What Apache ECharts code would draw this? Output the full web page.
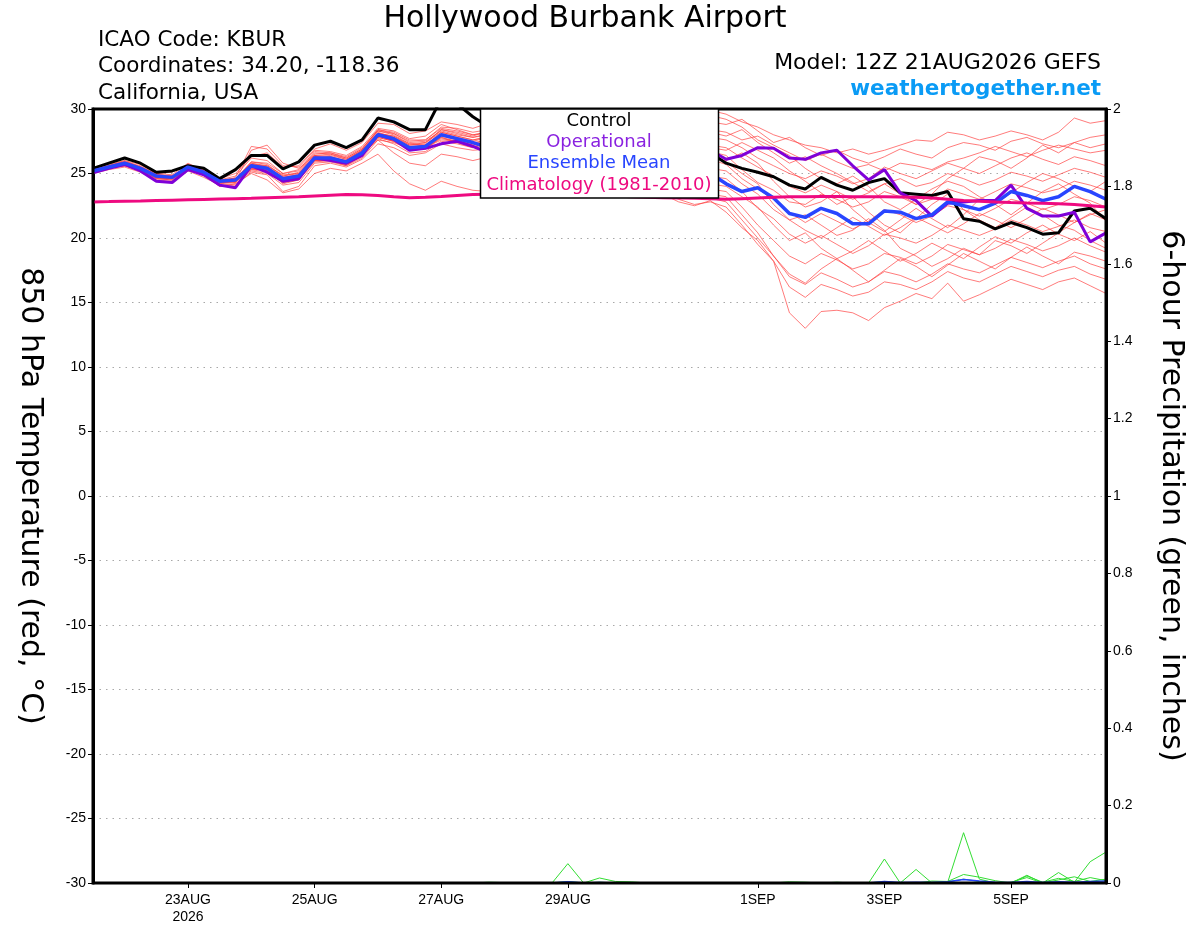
<!DOCTYPE html>
<html>
<head>
<meta charset="utf-8">
<title>Hollywood Burbank Airport</title>
<script src="https://cdn.jsdelivr.net/npm/echarts@6/dist/echarts.min.js"></script>
<style>
  html, body { margin: 0; padding: 0; background: #fff; }
  #main { width: 1200px; height: 927px; }
</style>
</head>
<body>
<div id="main"></div>
<script>
// 6-hourly steps, 21AUG2026 12Z .. 6SEP2026 12Z (65 steps)
const steps = 65;
const tickIndex = [6, 14, 22, 30, 42, 50, 58];
const tickText = ['23AUG\n2026', '25AUG', '27AUG', '29AUG', '1SEP', '3SEP', '5SEP'];

// control run (black)
const control = [25.4, 25.8, 26.2, 25.8, 25.1, 25.2, 25.6, 25.4, 24.6, 25.3, 26.4, 26.4, 25.35,
  25.9, 27.2, 27.5, 27.0, 27.6, 29.3, 29.0, 28.4, 28.4, 30.8, 30.4, 29.4, 28.6,
  29.2, 29.8, 29.0, 28.4, 29.0, 29.4, 28.6, 28.0, 28.4, 27.8, 27.4, 27.2, 26.9,
  26.6, 25.8, 25.4, 25.1, 24.75, 24.1, 23.8, 24.7, 24.1, 23.7, 24.3, 24.6, 23.5,
  23.4, 23.3, 23.6, 21.5, 21.3, 20.7, 21.2, 20.8, 20.3, 20.4, 22.1, 22.3, 21.5];

// operational run (purple)
const operational = [25.05, 25.4, 25.7, 25.2, 24.4, 24.3, 25.3, 24.9, 24.1, 23.9, 25.6, 25.1, 24.4,
  24.6, 26.2, 26.0, 25.8, 26.4, 28.0, 27.65, 26.8, 26.95, 27.3, 27.5, 27.1, 26.6,
  27.2, 27.8, 27.5, 27.0, 27.6, 28.0, 27.6, 27.0, 27.4, 27.0, 26.8, 27.2, 27.0,
  26.8, 26.1, 26.4, 27.0, 26.95, 26.2, 26.1, 26.6, 26.8, 25.6, 24.5, 25.3, 23.5,
  22.9, 21.7, 22.7, 22.8, 22.9, 22.9, 24.1, 22.3, 21.7, 21.7, 22.0, 19.7, 20.4];

// ensemble mean (blue)
const ensMean = [25.2, 25.5, 25.8, 25.4, 24.8, 24.7, 25.5, 25.1, 24.4, 24.5, 25.6, 25.4, 24.6,
  24.8, 26.2, 26.2, 25.9, 26.6, 28.0, 27.7, 27.0, 27.1, 28.0, 27.7, 27.4, 27.0,
  27.6, 28.2, 28.0, 27.5, 28.0, 28.3, 27.8, 27.2, 27.6, 27.0, 26.3, 26.0, 25.4,
  25.0, 24.2, 23.6, 23.9, 23.1, 21.9, 21.6, 22.3, 21.9, 21.1, 21.1, 22.1, 22.0,
  21.5, 21.8, 22.8, 22.5, 22.2, 22.7, 23.6, 23.3, 22.9, 23.2, 24.0, 23.6, 23.0];

// climatology 1981-2010 (pink)
const climo = [22.8, 22.82, 22.85, 22.87, 22.9, 22.93, 22.96, 22.99, 23.02, 23.05, 23.08, 23.12, 23.16,
  23.2, 23.26, 23.32, 23.38, 23.36, 23.3, 23.2, 23.12, 23.15, 23.22, 23.3, 23.38, 23.4,
  23.42, 23.4, 23.38, 23.35, 23.33, 23.3, 23.28, 23.25, 23.2, 23.15, 23.12, 23.1, 23.08,
  23.05, 23.0, 23.05, 23.1, 23.15, 23.2, 23.2, 23.22, 23.22, 23.2, 23.2, 23.2, 23.18,
  23.15, 23.1, 23.0, 22.9, 22.85, 22.8, 22.75, 22.72, 22.7, 22.65, 22.6, 22.5, 22.4];

// ensemble members (red)
const members = [
  [25.3, 25.7, 26.0, 25.7, 25.0, 25.1, 25.7, 25.3, 24.6, 25.0, 26.3, 26.6, 25.5, 25.6, 26.9, 27.3, 26.8, 27.4, 28.9, 28.8, 28.1, 28.3, 29.0, 28.8, 28.5,
   28.9, 29.6, 30.4, 29.8, 29.2, 30.0, 30.6, 29.8, 29.4, 30.2, 29.6, 29.2, 29.8, 30.2, 29.9,
   29.6, 29.0, 28.6, 28.0, 27.6, 27.2, 27.0, 26.6, 26.9, 26.5, 26.8, 27.2, 27.6, 27.5, 28.2, 28.0, 27.6, 27.9, 28.3, 28.0, 27.6, 28.2, 29.3, 28.9, 29.1],
  [25.2, 25.5, 25.7, 25.3, 24.6, 24.6, 25.6, 25.0, 24.2, 24.3, 25.5, 25.2, 24.4, 24.7, 26.1, 26.3, 25.9, 26.7, 28.1, 27.9, 27.2, 27.3, 28.4, 28.2, 27.9,
   28.3, 28.9, 29.5, 29.0, 28.5, 29.1, 29.6, 29.0, 28.6, 29.2, 28.8, 28.4, 29.0, 29.4, 29.0,
   28.8, 29.2, 28.3, 27.4, 27.8, 27.0, 26.4, 26.8, 26.2, 25.8, 26.3, 26.9, 26.5, 26.2, 27.0, 27.4, 27.2, 26.8, 27.5, 27.8, 27.3, 27.0, 27.4, 27.8, 28.0],
  [25.1, 25.4, 25.6, 25.2, 24.6, 24.5, 25.4, 24.9, 24.0, 24.2, 25.2, 25.0, 24.1, 24.3, 25.8, 25.9, 25.6, 26.2, 27.6, 27.4, 26.9, 27.0, 27.6, 27.5, 27.3,
   27.6, 28.2, 28.8, 28.4, 27.9, 28.5, 29.0, 28.4, 28.0, 28.6, 28.2, 27.7, 28.3, 28.6, 28.4,
   28.2, 27.6, 27.9, 27.2, 26.6, 26.0, 26.5, 25.9, 25.4, 25.7, 25.2, 25.8, 25.6, 25.3, 25.9, 26.2, 26.6, 27.1, 26.7, 26.3, 26.8, 27.2, 26.9, 26.6, 26.8],
  [25.3, 25.6, 26.0, 25.5, 25.0, 24.9, 25.8, 25.2, 24.5, 24.8, 26.2, 26.0, 25.0, 25.2, 26.6, 26.5, 26.2, 26.9, 28.4, 28.1, 27.5, 27.6, 28.6, 28.5, 28.2,
   28.4, 29.0, 29.7, 29.2, 28.6, 29.3, 29.8, 29.1, 28.6, 29.0, 28.5, 28.0, 28.4, 28.7, 28.2,
   27.9, 28.4, 27.4, 26.6, 25.8, 26.3, 25.6, 25.0, 24.3, 23.6, 24.2, 23.4, 22.6, 23.4, 24.6, 25.4, 26.3, 26.0, 25.4, 26.2, 27.2, 26.6, 27.4, 27.0, 27.3],
  [25.0, 25.3, 25.5, 25.1, 24.5, 24.4, 25.2, 24.7, 24.1, 24.2, 25.0, 24.5, 23.5, 23.8, 25.0, 25.4, 25.2, 25.8, 26.5, 25.2, 24.2, 23.7, 24.4, 24.0, 23.7,
   23.6, 24.3, 25.0, 24.6, 24.0, 24.8, 25.4, 24.8, 24.2, 24.6, 24.0, 23.4, 22.8, 22.5, 22.9,
   22.0, 20.8, 19.8, 18.2, 14.2, 13.0, 14.3, 14.4, 14.2, 13.6, 14.6, 15.1, 15.7, 15.3, 16.5, 15.1, 15.6, 16.2, 16.8, 16.4, 16.0, 16.6, 16.9, 16.3, 15.7],
  [25.2, 25.6, 25.9, 25.5, 24.9, 24.8, 25.5, 25.2, 24.3, 24.4, 26.8, 27.2, 25.8, 25.4, 26.4, 26.0, 25.7, 26.3, 27.8, 27.5, 26.8, 26.9, 27.8, 27.4, 27.0,
   27.5, 28.2, 29.0, 28.6, 28.0, 28.8, 29.5, 29.0, 28.6, 29.4, 29.0, 28.5, 29.2, 29.6, 29.5,
   29.2, 28.6, 27.6, 27.0, 26.4, 25.4, 24.6, 24.2, 24.8, 24.0, 22.8, 22.2, 23.0, 23.8, 24.4, 24.0, 23.2, 22.6, 23.5, 24.3, 25.0, 24.6, 24.0, 23.6, 24.4],
  [25.1, 25.4, 25.7, 25.3, 24.7, 24.6, 25.3, 24.9, 24.2, 24.5, 25.9, 25.7, 24.8, 25.1, 26.5, 26.6, 26.3, 27.0, 28.3, 28.0, 27.3, 27.2, 28.2, 27.9, 27.6,
   27.9, 28.5, 29.2, 28.7, 28.2, 28.8, 29.3, 28.6, 28.1, 28.5, 27.9, 27.4, 27.8, 27.3, 27.0,
   26.8, 27.4, 26.8, 26.2, 25.2, 24.4, 23.5, 22.6, 23.2, 22.0, 21.0, 20.4, 21.5, 22.6, 23.4, 22.2, 21.4, 20.8, 21.6, 22.4, 21.8, 21.0, 20.6, 19.8, 19.2],
  [25.2, 25.5, 25.8, 25.4, 24.8, 24.8, 25.6, 25.1, 24.3, 24.4, 25.3, 25.3, 24.2, 24.5, 26.0, 26.1, 25.8, 26.5, 27.9, 27.6, 27.0, 27.1, 27.9, 27.6, 27.2,
   27.4, 28.0, 28.6, 28.2, 27.6, 28.2, 28.8, 28.2, 27.7, 28.2, 27.8, 27.2, 27.6, 28.0, 27.8,
   27.6, 27.0, 26.2, 25.6, 25.0, 24.6, 25.2, 24.8, 24.2, 24.6, 25.5, 25.0, 24.6, 25.2, 25.8, 25.4, 25.0, 25.6, 26.2, 26.6, 26.1, 25.7, 26.3, 26.0, 25.6],
  [25.3, 25.6, 25.9, 25.6, 24.9, 24.6, 25.4, 25.0, 24.4, 24.6, 25.7, 25.5, 24.7, 24.9, 26.3, 26.2, 26.0, 26.8, 28.2, 27.8, 27.1, 27.2, 28.1, 27.8, 27.5,
   27.8, 28.4, 29.0, 28.5, 27.9, 28.4, 28.9, 28.2, 27.6, 27.9, 27.4, 26.8, 27.1, 27.4, 27.2,
   27.0, 26.2, 25.5, 24.8, 24.0, 23.5, 24.1, 23.6, 23.0, 23.5, 24.2, 24.6, 24.0, 24.3, 25.0, 24.6, 24.1, 24.5, 25.1, 24.8, 24.4, 24.9, 25.4, 25.1, 24.7],
  [25.1, 25.4, 25.6, 25.2, 24.7, 24.6, 25.3, 25.0, 24.3, 24.7, 27.1, 26.9, 25.6, 25.5, 26.8, 26.7, 26.4, 27.1, 28.5, 28.3, 27.7, 27.9, 28.8, 28.4, 28.0,
   28.2, 28.8, 29.4, 28.9, 28.3, 28.9, 29.3, 28.5, 27.8, 28.0, 27.3, 26.6, 26.8, 26.4, 26.2,
   26.0, 26.6, 25.8, 24.4, 23.2, 22.4, 22.8, 23.6, 22.2, 21.2, 20.5, 21.4, 22.3, 21.5, 20.8, 21.8, 23.0, 22.6, 21.8, 22.7, 23.6, 24.2, 23.4, 22.7, 21.3],
  [25.2, 25.6, 25.9, 25.3, 24.7, 24.7, 25.6, 25.0, 24.3, 24.4, 25.4, 25.2, 24.3, 24.6, 26.0, 26.0, 25.6, 26.4, 27.7, 27.3, 26.6, 26.7, 27.5, 27.3, 27.0,
   27.3, 27.9, 28.5, 28.0, 27.4, 27.9, 28.4, 27.7, 27.1, 27.4, 26.8, 26.1, 26.5, 26.9, 26.7,
   26.4, 25.3, 24.3, 23.7, 22.8, 22.6, 23.4, 23.0, 22.4, 22.8, 23.6, 23.2, 22.6, 23.0, 23.8, 23.4, 23.0, 23.6, 24.2, 23.9, 23.5, 23.8, 24.4, 24.1, 23.7],
  [25.3, 25.5, 25.8, 25.5, 24.9, 24.8, 25.5, 25.2, 24.5, 24.6, 25.8, 25.6, 24.9, 25.0, 26.4, 26.5, 26.1, 26.8, 28.3, 28.1, 27.4, 27.5, 28.3, 28.0, 27.8,
   28.0, 28.6, 29.2, 28.6, 27.9, 28.4, 28.8, 27.9, 27.1, 27.2, 26.5, 25.8, 26.0, 26.3, 26.1,
   25.7, 24.6, 23.8, 23.0, 22.0, 21.2, 21.9, 21.3, 20.7, 21.3, 22.2, 21.8, 21.2, 21.7, 22.5, 22.2, 21.7, 22.3, 23.0, 22.7, 22.2, 22.6, 23.2, 22.9, 22.4],
  [25.1, 25.4, 25.6, 25.3, 24.6, 24.5, 25.3, 24.9, 24.0, 24.1, 25.1, 24.9, 23.6, 24.0, 25.6, 25.8, 25.5, 26.1, 27.3, 27.0, 26.4, 26.6, 27.3, 27.0, 26.8,
   26.9, 27.4, 27.9, 27.2, 26.5, 26.8, 27.0, 26.2, 25.4, 25.2, 24.4, 23.6, 23.0, 22.6, 22.8,
   22.4, 21.0, 19.5, 18.2, 16.2, 15.4, 16.4, 16.0, 15.5, 15.8, 16.6, 16.4, 16.0, 16.6, 17.4, 16.9, 16.6, 17.2, 17.8, 17.4, 17.0, 17.5, 17.8, 17.2, 16.8],
  [25.2, 25.5, 25.7, 25.4, 24.8, 24.7, 25.6, 25.2, 24.5, 24.6, 25.7, 25.6, 24.8, 25.0, 26.4, 26.3, 26.0, 26.7, 28.1, 27.8, 27.2, 27.4, 28.4, 28.1, 27.8,
   28.1, 28.7, 29.4, 28.9, 28.3, 28.9, 29.4, 28.7, 28.1, 28.3, 27.6, 26.9, 27.0, 26.6, 26.3,
   25.9, 25.0, 24.2, 22.6, 21.4, 21.8, 21.0, 20.2, 20.6, 21.5, 20.6, 19.2, 18.6, 17.8, 18.4, 19.2, 18.7, 19.8, 19.4, 18.8, 19.6, 20.4, 21.2, 21.8, 22.2],
  [25.2, 25.5, 25.8, 25.3, 24.7, 24.6, 25.4, 25.0, 24.3, 24.3, 25.3, 25.1, 24.3, 24.5, 25.9, 26.0, 25.7, 26.4, 27.8, 27.5, 26.9, 27.0, 27.7, 27.5, 27.1,
   27.3, 27.8, 28.3, 27.7, 27.0, 27.4, 27.8, 27.0, 26.3, 26.5, 25.8, 25.1, 25.4, 25.6, 25.4,
   25.2, 24.2, 23.4, 22.2, 21.4, 20.6, 20.0, 20.8, 21.6, 20.9, 20.2, 20.8, 21.6, 21.0, 20.4, 21.1, 21.9, 21.4, 20.8, 21.5, 22.3, 21.8, 21.2, 21.9, 21.4],
  [25.2, 25.5, 25.8, 25.4, 24.8, 24.7, 25.4, 25.0, 24.4, 24.5, 25.5, 25.3, 24.5, 24.7, 26.0, 26.1, 25.9, 26.5, 27.6, 26.6, 25.8, 25.6, 26.5, 26.3, 26.0,
   26.3, 26.9, 27.5, 27.0, 26.3, 26.7, 27.0, 26.2, 25.5, 25.5, 24.8, 24.0, 23.6, 23.2, 23.1,
   22.8, 21.4, 20.0, 18.6, 17.0, 16.4, 17.3, 16.8, 16.2, 16.6, 17.4, 17.1, 16.6, 17.2, 18.0, 17.6, 17.3, 17.9, 18.5, 18.1, 17.7, 18.2, 18.6, 18.0, 17.6],
  [25.3, 25.6, 25.9, 25.5, 24.9, 24.8, 25.6, 25.2, 24.5, 24.6, 25.9, 25.8, 25.0, 25.3, 26.7, 26.6, 26.2, 26.9, 28.4, 28.2, 27.6, 27.6, 28.5, 28.3, 28.0,
   28.2, 28.7, 29.2, 28.6, 27.8, 28.2, 28.5, 27.6, 26.8, 26.9, 26.1, 25.3, 25.4, 25.0, 24.8,
   24.6, 23.6, 22.3, 21.5, 20.3, 19.6, 20.2, 19.5, 18.8, 19.4, 20.3, 20.0, 19.6, 20.2, 21.0, 20.6, 20.2, 20.7, 21.4, 21.0, 20.5, 20.9, 21.4, 20.8, 20.5],
  [25.1, 25.4, 25.7, 25.3, 24.7, 24.6, 25.4, 25.0, 24.3, 24.4, 25.6, 25.3, 24.5, 24.7, 26.1, 26.1, 25.8, 26.5, 28.0, 27.6, 27.0, 27.2, 28.0, 27.6, 27.4,
   27.6, 28.1, 28.6, 28.0, 27.2, 27.6, 27.9, 27.0, 26.2, 26.2, 25.5, 24.7, 24.8, 24.4, 24.2,
   24.0, 23.2, 22.4, 21.0, 19.8, 20.4, 19.2, 18.4, 19.0, 19.8, 19.0, 18.2, 18.8, 19.6, 19.0, 18.4, 19.3, 20.1, 19.6, 20.4, 21.0, 20.3, 19.8, 20.5, 19.6],
  [25.2, 25.5, 25.8, 25.4, 24.9, 24.8, 25.5, 25.1, 24.4, 24.6, 25.8, 25.5, 24.7, 24.9, 26.3, 26.4, 26.1, 26.8, 28.1, 27.9, 27.3, 27.4, 28.2, 27.9, 27.6,
   27.8, 28.3, 28.8, 28.2, 27.4, 27.8, 28.1, 27.2, 26.4, 26.4, 25.6, 24.8, 24.6, 24.0, 23.8,
   23.6, 22.4, 21.0, 19.8, 18.6, 18.0, 18.8, 18.3, 17.6, 18.0, 18.8, 18.5, 18.0, 18.6, 19.5, 19.1, 18.7, 19.2, 19.9, 19.5, 19.0, 19.4, 20.0, 19.4, 18.9],
  [25.2, 25.4, 25.7, 25.3, 24.7, 24.6, 25.5, 25.0, 24.3, 24.4, 25.4, 25.2, 24.4, 24.6, 26.0, 26.0, 25.7, 26.4, 27.9, 27.5, 26.9, 27.0, 27.8, 27.5, 27.2,
   27.4, 27.9, 28.4, 27.8, 27.0, 27.3, 27.6, 26.7, 25.9, 25.8, 25.0, 24.2, 24.0, 23.5, 23.4,
   23.2, 21.8, 20.4, 18.6, 17.2, 16.5, 17.6, 18.4, 17.5, 16.6, 17.5, 18.4, 17.8, 17.0, 17.9, 18.8, 18.2, 17.6, 18.5, 19.3, 18.6, 18.0, 18.9, 18.6, 18.2]
];

// 6-hour precipitation, inches (green members, blue mean)
const precipA = [0, 0, 0, 0, 0, 0, 0, 0, 0, 0, 0, 0, 0,
  0, 0, 0, 0, 0, 0, 0, 0, 0, 0, 0, 0, 0.002,
  0.001, 0, 0, 0, 0.05, 0, 0, 0, 0, 0, 0, 0, 0,
  0, 0, 0, 0, 0, 0, 0, 0, 0.002, 0, 0, 0.062, 0,
  0.035, 0, 0.002, 0.13, 0.01, 0, 0, 0.02, 0, 0.027, 0.002, 0.055, 0.08];
const precipB = [0, 0, 0, 0, 0, 0, 0, 0, 0, 0, 0, 0, 0,
  0, 0, 0, 0, 0, 0, 0, 0, 0, 0, 0, 0, 0,
  0, 0, 0, 0, 0.004, 0, 0.013, 0.004, 0.003, 0, 0, 0, 0,
  0, 0, 0, 0, 0, 0.003, 0.002, 0, 0, 0, 0, 0.004, 0,
  0, 0.005, 0.004, 0.022, 0.015, 0.006, 0, 0.018, 0.002, 0.012, 0.004, 0.014, 0.006];
const precipC = [0, 0, 0, 0, 0, 0, 0, 0, 0, 0, 0, 0, 0,
  0, 0, 0, 0, 0, 0, 0, 0, 0, 0, 0, 0, 0,
  0, 0, 0, 0, 0, 0, 0.002, 0, 0, 0, 0, 0, 0,
  0, 0, 0, 0, 0, 0, 0, 0, 0, 0, 0, 0.002, 0,
  0, 0, 0.003, 0.01, 0.004, 0, 0.002, 0.014, 0, 0.008, 0.016, 0.004, 0.01];
const precipMean = [0, 0, 0, 0, 0, 0, 0, 0, 0, 0, 0, 0, 0,
  0, 0, 0, 0, 0, 0, 0, 0, 0, 0, 0, 0, 0,
  0, 0, 0, 0, 0.003, 0, 0.001, 0, 0, 0, 0, 0, 0,
  0, 0, 0, 0, 0, 0, 0, 0, 0, 0, 0, 0.004, 0.001,
  0.002, 0.001, 0.003, 0.009, 0.005, 0.002, 0.001, 0.004, 0.001, 0.003, 0.002, 0.004, 0.005];

// category labels for each 6h step
const months = ['JAN', 'FEB', 'MAR', 'APR', 'MAY', 'JUN', 'JUL', 'AUG', 'SEP', 'OCT', 'NOV', 'DEC'];
const times = [];
const t0 = Date.UTC(2026, 7, 21, 12);
for (let i = 0; i < steps; i++) {
  const d = new Date(t0 + i * 6 * 3600 * 1000);
  times.push(d.getUTCDate() + months[d.getUTCMonth()] + ' ' + String(d.getUTCHours()).padStart(2, '0') + 'Z');
}

const FONT = 'DejaVu Sans';
const TICKFONT = 'Liberation Sans';

const series = [];
members.forEach(function (m, i) {
  series.push({
    name: 'member' + (i + 1), type: 'line', data: m, symbol: 'none', silent: true,
    lineStyle: { color: '#ff3b3b', width: 0.8, opacity: 0.85 }, z: 2
  });
});
[precipA, precipB, precipC].forEach(function (p) {
  series.push({
    type: 'line', yAxisIndex: 1, data: p, symbol: 'none', silent: true,
    lineStyle: { color: '#33dd33', width: 1 }, z: 3
  });
});
series.push({ type: 'line', yAxisIndex: 1, data: precipMean, symbol: 'none', lineStyle: { color: '#2845ff', width: 1.5 }, z: 3 });
series.push({ name: 'Control', type: 'line', data: control, symbol: 'none', lineStyle: { color: '#000', width: 3 }, z: 4 });
series.push({ name: 'Operational', type: 'line', data: operational, symbol: 'none', lineStyle: { color: '#7f00d8', width: 3 }, z: 5 });
series.push({ name: 'Ensemble Mean', type: 'line', data: ensMean, symbol: 'none', lineStyle: { color: '#2845ff', width: 3.5 }, z: 6 });
series.push({ name: 'Climatology', type: 'line', data: climo, symbol: 'none', lineStyle: { color: '#ee0a80', width: 3 }, z: 7 });

const chart = echarts.init(document.getElementById('main'));
chart.setOption({
  animation: false,
  backgroundColor: '#fff',
  grid: { left: 93, right: 94, top: 109, bottom: 44 },
  xAxis: {
    type: 'category', data: times, boundaryGap: false,
    axisLine: { show: false, onZero: false },
    axisTick: { show: true, length: 5, interval: function (i) { return tickIndex.indexOf(i) >= 0; }, lineStyle: { color: '#000', width: 1 } },
    axisLabel: {
      interval: function (i) { return tickIndex.indexOf(i) >= 0; },
      formatter: function (v, i) { return tickText[tickIndex.indexOf(i)]; },
      color: '#000', fontFamily: TICKFONT, fontSize: 14, lineHeight: 17, margin: 9
    },
    splitLine: { show: false }
  },
  yAxis: [{
    type: 'value', min: -30, max: 30, interval: 5, position: 'left',
    axisLine: { show: true, lineStyle: { color: '#000', width: 3 } },
    axisTick: { show: true, length: 5, lineStyle: { color: '#000', width: 1 } },
    axisLabel: { color: '#000', fontFamily: TICKFONT, fontSize: 14, margin: 7 },
    splitLine: { show: true, lineStyle: { color: '#a8a8a8', type: [1.5, 5], width: 1 } },
    name: '850 hPa Temperature (red, °C)', nameLocation: 'middle', nameRotate: -90, nameGap: 48,
    nameTextStyle: { color: '#000', fontFamily: FONT, fontSize: 30 }
  }, {
    type: 'value', min: 0, max: 2, interval: 0.2, position: 'right',
    axisLine: { show: true, lineStyle: { color: '#000', width: 3 } },
    axisTick: { show: true, length: 5, lineStyle: { color: '#000', width: 1 } },
    axisLabel: { color: '#000', fontFamily: TICKFONT, fontSize: 14, margin: 7 },
    splitLine: { show: false },
    name: '6-hour Precipitation (green, inches)', nameLocation: 'middle', nameRotate: -90, nameGap: 50,
    nameTextStyle: { color: '#000', fontFamily: FONT, fontSize: 30 }
  }],
  graphic: [
    // plot frame drawn on top so zero-level precip lines sit under it
    { type: 'rect', z: 90, silent: true, shape: { x: 93, y: 109, width: 1013, height: 774 }, style: { fill: 'none', stroke: '#000', lineWidth: 3 } },
    { type: 'text', x: 585, y: 19, z: 100, style: { text: 'Hollywood Burbank Airport', font: '30px "DejaVu Sans"', fill: '#000', textAlign: 'center', textVerticalAlign: 'middle' } },
    { type: 'text', x: 98, y: 40, z: 100, style: { text: 'ICAO Code: KBUR', font: '21.5px "DejaVu Sans"', fill: '#000', textVerticalAlign: 'middle' } },
    { type: 'text', x: 98, y: 66, z: 100, style: { text: 'Coordinates: 34.20, -118.36', font: '21.5px "DejaVu Sans"', fill: '#000', textVerticalAlign: 'middle' } },
    { type: 'text', x: 98, y: 93, z: 100, style: { text: 'California, USA', font: '21.5px "DejaVu Sans"', fill: '#000', textVerticalAlign: 'middle' } },
    { type: 'text', x: 1101, y: 63, z: 100, style: { text: 'Model: 12Z 21AUG2026 GEFS', font: '22px "DejaVu Sans"', fill: '#000', textAlign: 'right', textVerticalAlign: 'middle' } },
    { type: 'text', x: 1101, y: 89, z: 100, style: { text: 'weathertogether.net', font: 'bold 21.5px "DejaVu Sans"', fill: '#0a9bf5', textAlign: 'right', textVerticalAlign: 'middle' } },
    { type: 'rect', z: 100, shape: { x: 480.5, y: 109, width: 238, height: 89 }, style: { fill: '#fff', stroke: '#000', lineWidth: 1.5 } },
    { type: 'text', x: 599, y: 121, z: 101, style: { text: 'Control', font: '18px "DejaVu Sans"', fill: '#000', textAlign: 'center', textVerticalAlign: 'middle' } },
    { type: 'text', x: 599, y: 142, z: 101, style: { text: 'Operational', font: '18px "DejaVu Sans"', fill: '#8a22e0', textAlign: 'center', textVerticalAlign: 'middle' } },
    { type: 'text', x: 599, y: 163, z: 101, style: { text: 'Ensemble Mean', font: '18px "DejaVu Sans"', fill: '#2845ff', textAlign: 'center', textVerticalAlign: 'middle' } },
    { type: 'text', x: 599, y: 185, z: 101, style: { text: 'Climatology (1981-2010)', font: '18px "DejaVu Sans"', fill: '#ee0a80', textAlign: 'center', textVerticalAlign: 'middle' } }
  ],
  series: series
});
</script>
</body>
</html>
